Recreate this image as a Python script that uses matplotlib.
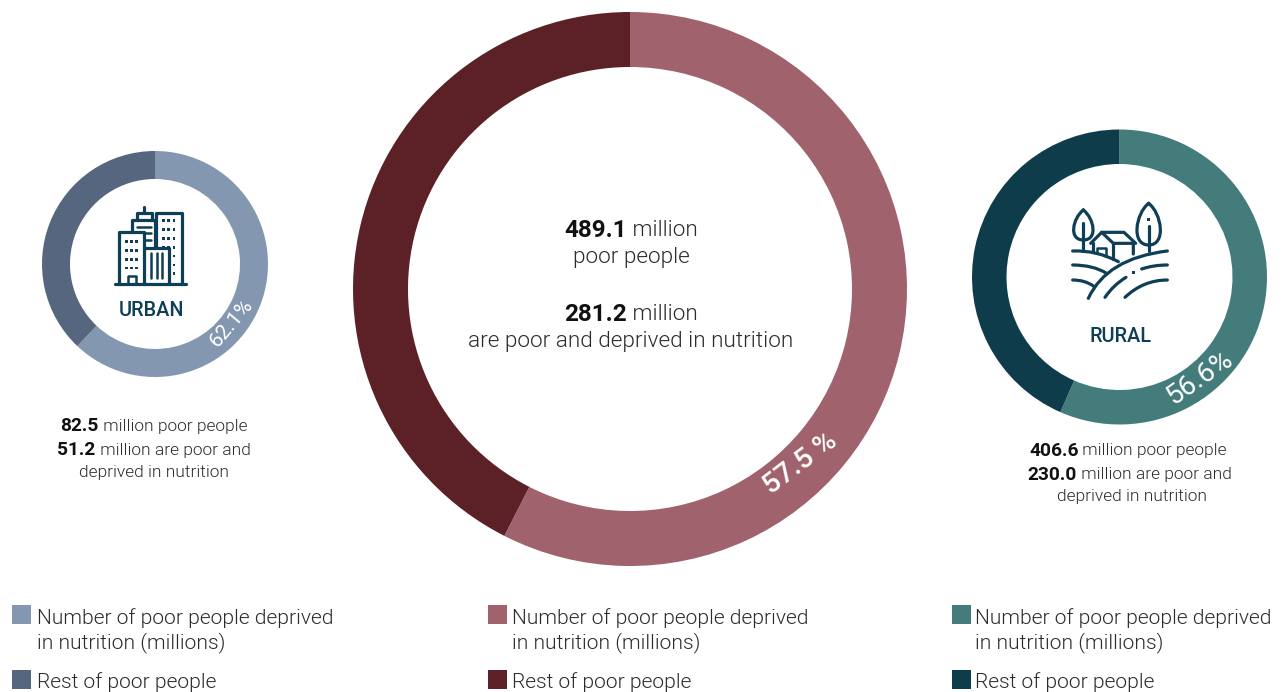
import matplotlib
matplotlib.use('Agg')
import matplotlib.pyplot as plt
from matplotlib.patches import PathPatch, Rectangle
from matplotlib.path import Path

W, H = 1285, 692

# millions of people
urban_total, urban_deprived = 82.5, 51.2
total_total, total_deprived = 489.1, 281.2
rural_total, rural_deprived = 406.6, 230.0

urban_colors = ['#8497B0', '#56667F']
total_colors = ['#A0636D', '#5C2027']
rural_colors = ['#437C7B', '#0E3C4A']
navy = '#0E3F57'
text_col = '#2B2B2B'

plt.rcParams['font.family'] = ['Roboto', 'DejaVu Sans']

fig = plt.figure(figsize=(W / 100, H / 100), dpi=100)
page = fig.add_axes([0, 0, 1, 1])
page.set_xlim(0, W)
page.set_ylim(H, 0)
page.axis('off')


def donut(cx, cy, r_out, r_in, deprived, total, colors):
    ax = fig.add_axes([(cx - r_out) / W, 1 - (cy + r_out) / H, 2 * r_out / W, 2 * r_out / H])
    ax.pie([deprived, total - deprived], colors=colors, startangle=90, counterclock=False,
           radius=1, wedgeprops={'width': 1 - r_in / r_out, 'linewidth': 0})
    ax.set_xlim(-1, 1)
    ax.set_ylim(-1, 1)
    ax.set_zorder(0)


donut(155, 264, 113, 85, urban_deprived, urban_total, urban_colors)
donut(630, 289, 277, 222, total_deprived, total_total, total_colors)
donut(1119.5, 277, 147.5, 113, rural_deprived, rural_total, rural_colors)
page.set_zorder(5)
page.patch.set_alpha(0)


def mixed(cx, y, bold, rest, size_b, size_r):
    # bold number followed by regular text, centred as one line
    r = fig.canvas.get_renderer()
    a = page.text(0, y, bold, fontsize=size_b, fontweight='bold', color='#111111', va='center')
    b = page.text(0, y, ' ' + rest, fontsize=size_r, fontweight=300, color=text_col, va='center')
    wa = a.get_window_extent(r).width
    wb = b.get_window_extent(r).width
    x0 = cx - (wa + wb) / 2
    a.set_x(x0)
    b.set_x(x0 + wa)


mixed(631, 230.5, '489.1', 'million', 17.5, 16.2)
page.text(631, 258, 'poor people', fontsize=16.2, fontweight=300, color=text_col, ha='center', va='center')
mixed(631, 314.5, '281.2', 'million', 17.5, 16.2)
page.text(631, 341, 'are poor and deprived in nutrition', fontsize=16.2, fontweight=300, color=text_col,
          ha='center', va='center')

mixed(154, 426, '82.5', 'million poor people', 13.8, 12.5)
mixed(154, 450, '51.2', 'million are poor and', 13.8, 12.5)
page.text(154, 472, 'deprived in nutrition', fontsize=12.5, fontweight=300, color=text_col, ha='center', va='center')

mixed(1128, 451, '406.6', 'million poor people', 13.8, 12.5)
mixed(1130, 475, '230.0', 'million are poor and', 13.8, 12.5)
page.text(1132, 497, 'deprived in nutrition', fontsize=12.5, fontweight=300, color=text_col, ha='center', va='center')

page.text(151.5, 311, 'URBAN', fontsize=14.3, fontweight='medium', color=navy, ha='center', va='center')
page.text(1121, 336, 'RURAL', fontsize=14.3, fontweight='medium', color=navy, ha='center', va='center')

# percentages written along the rings
page.text(231, 323, f'{urban_deprived / urban_total * 100:.1f}%', fontsize=15, color='white',
          rotation=50, ha='center', va='center', rotation_mode='anchor')
page.text(1200, 377, f'{rural_deprived / rural_total * 100:.1f}%', fontsize=20, color='white',
          rotation=35, ha='center', va='center', rotation_mode='anchor')
page.text(800, 464, f'{total_deprived / total_total * 100:.1f} %', fontsize=20.5, fontweight='medium', color='white',
          rotation=37, ha='center', va='center', rotation_mode='anchor')


def legend_block(xb, xt, colors):
    page.add_patch(Rectangle((xb, 605), 19, 19, color=colors[0], lw=0))
    page.add_patch(Rectangle((xb, 670), 19, 19, color=colors[1], lw=0))
    page.text(xt, 618, 'Number of poor people deprived', fontsize=15.15, fontweight=300, color=text_col, va='center')
    page.text(xt, 643, 'in nutrition (millions)', fontsize=15.15, fontweight=300, color=text_col, va='center')
    page.text(xt, 682, 'Rest of poor people', fontsize=15.15, fontweight=300, color=text_col, va='center')


legend_block(12, 37, urban_colors)
legend_block(488, 511.5, total_colors)
legend_block(952, 975, rural_colors)


def stroke(verts, codes=None, ox=0, oy=0, lw=2.3):
    # icon outline given in 1/3 pixel units around an offset
    pts = [(ox + x / 3, oy + y / 3) for x, y in verts]
    if codes is None:
        codes = [Path.MOVETO] + [Path.LINETO] * (len(pts) - 1)
    page.add_patch(PathPatch(Path(pts, codes), fill=False, edgecolor=navy, lw=lw,
                             capstyle='round', joinstyle='round'))


def dots(xs, ys, ox, oy, size=2.4):
    for y in ys:
        for x in xs:
            page.add_patch(Rectangle((ox + x / 3 - size / 2, oy + y / 3 - size / 2), size, size, color=navy, lw=0))


# city icon
ox, oy = 100, 190
stroke([(45, 281), (257, 281)], ox=ox, oy=oy)
stroke([(57, 281), (57, 127), (132, 127), (132, 281)], ox=ox, oy=oy)
stroke([(83, 281), (83, 258), (107, 258), (107, 281)], ox=ox, oy=oy, lw=1.8)
stroke([(132, 175), (207, 175), (207, 281)], ox=ox, oy=oy)
stroke([(95, 127), (95, 90), (165, 90), (165, 175)], ox=ox, oy=oy)
stroke([(110, 90), (110, 68), (155, 68), (155, 90)], ox=ox, oy=oy)
stroke([(132, 68), (132, 50)], ox=ox, oy=oy)
stroke([(110, 110), (152, 110)], ox=ox, oy=oy, lw=1.8)
stroke([(135, 130), (152, 130)], ox=ox, oy=oy, lw=1.8)
stroke([(135, 150), (152, 150)], ox=ox, oy=oy, lw=1.8)
stroke([(168, 175), (168, 68), (245, 68), (245, 281)], ox=ox, oy=oy)
for x in (153, 170, 187):
    stroke([(x, 190), (x, 265)], ox=ox, oy=oy, lw=1.8)
dots((80, 95, 110), (155, 182, 208, 234), ox, oy)
dots((190, 205, 222), (92, 118, 145, 172), ox, oy)
dots((222,), (198, 225, 250), ox, oy)

# farm icon
ox, oy = 1050, 190
C4 = Path.CURVE4
C3 = Path.CURVE3
M = Path.MOVETO
leaf = [M, C4, C4, C4, C4, C4, C4]
stroke([(100, 60), (132, 85), (145, 150), (100, 150), (55, 150), (68, 85), (100, 60)], leaf, ox, oy)
stroke([(100, 100), (100, 183)], ox=ox, oy=oy)
stroke([(296, 40), (335, 70), (350, 165), (296, 165), (242, 165), (257, 70), (296, 40)], leaf, ox, oy)
stroke([(296, 108), (296, 183)], ox=ox, oy=oy)
dots((296,), (88,), ox, oy, size=2.6)
stroke([(122, 160), (155, 127), (222, 127), (257, 160)], ox=ox, oy=oy)
stroke([(155, 127), (190, 160), (250, 160), (250, 192)], ox=ox, oy=oy)
stroke([(130, 158), (130, 185)], ox=ox, oy=oy)
stroke([(190, 160), (190, 208)], ox=ox, oy=oy)
stroke([(140, 190), (140, 175), (168, 175), (168, 196)], ox=ox, oy=oy, lw=1.8)
stroke([(68, 183), (140, 180), (205, 215)], [M, C3, C3], ox, oy)
stroke([(115, 325), (170, 205), (352, 183)], [M, C3, C3], ox, oy)
stroke([(68, 225), (130, 225), (170, 250)], [M, C3, C3], ox, oy)
stroke([(275, 237), (310, 225), (352, 225)], [M, C3, C3], ox, oy)
stroke([(68, 270), (105, 270), (130, 288)], [M, C3, C3], ox, oy)
stroke([(165, 322), (190, 285), (228, 262)], [M, C3, C3], ox, oy)
stroke([(225, 322), (280, 270), (352, 270)], [M, C3, C3], ox, oy)
dots((250,), (247,), ox, oy, size=2.8)

fig.savefig('out.png', dpi=100, facecolor='white')
